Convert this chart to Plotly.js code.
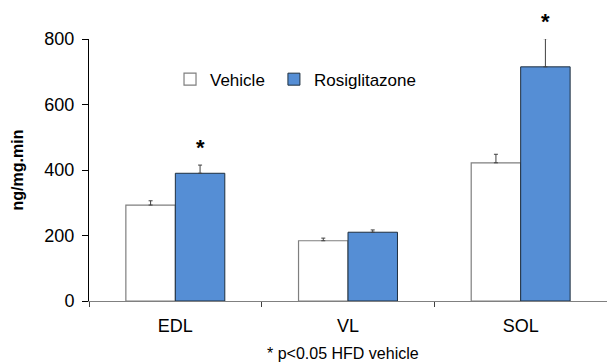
<!DOCTYPE html>
<html>
<head>
<meta charset="utf-8">
<script src="https://cdn.plot.ly/plotly-3.0.1.min.js"></script>
<style>html,body{margin:0;padding:0;background:#fff;}</style>
</head>
<body>
<div id="chart" style="width:607px;height:363px;"></div>
<script>
const categories = ["EDL", "VL", "SOL"];
const vehicleValues = [293, 184, 422];
const vehicleErrors = [13, 8, 26];
const rosiValues = [390, 210, 715];
const rosiErrors = [25, 7, 86];
const seriesNames = ["Vehicle", "Rosiglitazone"];
const significant = [true, false, true];
const yTicks = [0, 200, 400, 600, 800];
const yRange = [0, 800];
const footnote = "* p<0.05 HFD vehicle";
const yTitle = "ng/mg.min";

const FONT = "Arial, 'Liberation Sans', sans-serif";

const traces = [
  {
    type: "bar", name: seriesNames[0], x: categories, y: vehicleValues, legend: "legend",
    marker: {color: "#ffffff", line: {color: "#7f7f7f", width: 1.2}},
    error_y: {type: "data", array: vehicleErrors, symmetric: false,
              arrayminus: vehicleErrors.map(() => 0), color: "#404040", thickness: 1, width: 2},
    cliponaxis: false
  },
  {
    type: "bar", name: seriesNames[1], x: categories, y: rosiValues, legend: "legend2",
    marker: {color: "#558ed5", line: {color: "#1f2f3f", width: 1}},
    error_y: {type: "data", array: rosiErrors, symmetric: false,
              arrayminus: rosiErrors.map(() => 0), color: "#404040", thickness: 1, width: 2},
    cliponaxis: false
  }
];

const annotations = [];
categories.forEach((c, i) => {
  if (significant[i]) {
    annotations.push({
      x: c, xref: "x",
      y: (rosiValues[i] + rosiErrors[i] - yRange[0]) / (yRange[1] - yRange[0]), yref: "paper",
      text: "<b>*</b>", showarrow: false, xshift: 25, yshift: 3,
      yanchor: "bottom", font: {family: FONT, size: 22, color: "#000"}
    });
  }
});
annotations.push({
  x: 0.49, y: -0.202, xref: "paper", yref: "paper", text: footnote,
  showarrow: false, xanchor: "center", yanchor: "middle",
  font: {family: FONT, size: 16, color: "#000"}
});

const legendBase = {orientation: "h", xanchor: "left", y: 0.845, yanchor: "middle",
  font: {family: FONT, size: 17, color: "#000"}, bgcolor: "rgba(0,0,0,0)"};

const layout = {
  width: 607, height: 363,
  margin: {l: 89, r: 0, t: 39, b: 62, pad: 0},
  paper_bgcolor: "#fff", plot_bgcolor: "#fff",
  font: {family: FONT, color: "#000"},
  barmode: "group", bargap: 0.427, bargroupgap: 0,
  showlegend: true,
  legend: Object.assign({}, legendBase, {x: 0.1564}),
  legend2: Object.assign({}, legendBase, {x: 0.357}),
  xaxis: {
    type: "category", showgrid: false, zeroline: false,
    showline: true, linecolor: "#808080", linewidth: 1,
    ticks: "outside", tickson: "boundaries", ticklen: 5, tickcolor: "#404040",
    tickfont: {family: FONT, size: 18, color: "#000"}, ticklabelstandoff: 8,
    fixedrange: true
  },
  yaxis: {
    range: yRange, tickvals: yTicks, showgrid: false, zeroline: false,
    showline: true, linecolor: "#000", linewidth: 1,
    ticks: "outside", ticklen: 6, tickcolor: "#000",
    tickfont: {family: FONT, size: 18, color: "#000"}, ticklabelstandoff: 4,
    title: {text: "<b>" + yTitle + "</b>", font: {family: FONT, size: 16, color: "#000"}, standoff: 16},
    fixedrange: true
  },
  annotations: annotations
};

Plotly.newPlot("chart", traces, layout, {displayModeBar: false, staticPlot: true});
</script>
</body>
</html>
